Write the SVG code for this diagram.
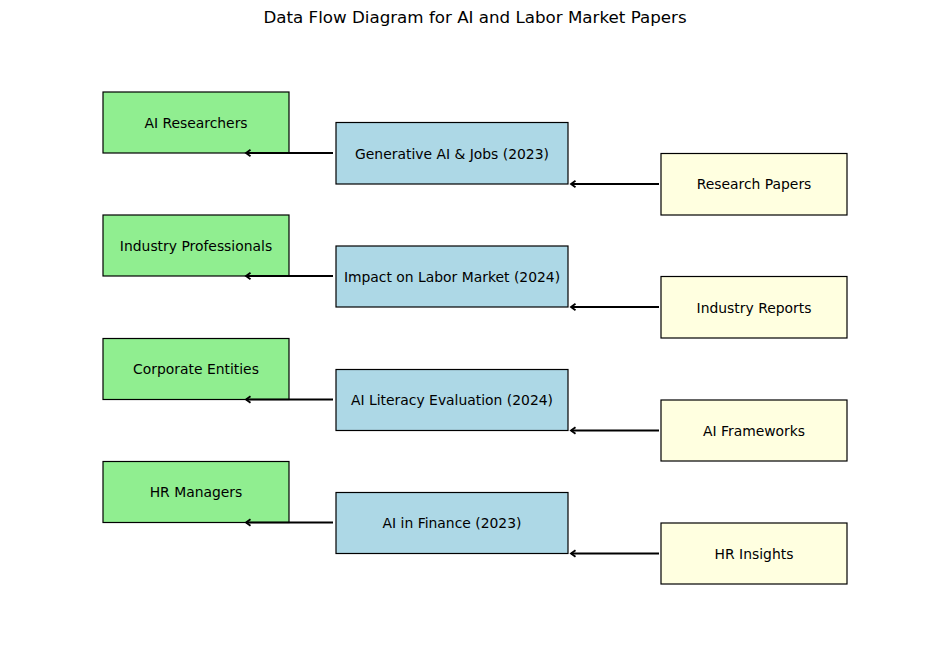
<svg xmlns="http://www.w3.org/2000/svg" width="950" height="656" viewBox="0 0 950 656">
<style>
.t{font-family:"DejaVu Sans",sans-serif;font-size:13.9px;fill:#000;text-anchor:middle;dominant-baseline:central}
.g{fill:#90ee90;stroke:#000;stroke-width:1.2}
.b{fill:#add8e6;stroke:#000;stroke-width:1.2}
.y{fill:#ffffe0;stroke:#000;stroke-width:1.2}
.c{stroke:#000;stroke-width:1.8;fill:none;marker-end:url(#ah)}
</style>
<defs>
<marker id="ah" viewBox="0 0 10 10" refX="9" refY="5" markerWidth="10" markerHeight="10" orient="auto" markerUnits="userSpaceOnUse" overflow="visible">
<path d="M4.5,1.8 L9,5 L4.5,8.2" fill="none" stroke="#000" stroke-width="1.8"/>
</marker>
</defs>
<rect width="950" height="656" fill="#fff"/>
<text x="475" y="17" style="font-family:'DejaVu Sans',sans-serif;font-size:16.7px;text-anchor:middle;dominant-baseline:central">Data Flow Diagram for AI and Labor Market Papers</text>
<g id="ai-researchers"><rect class="g" x="103" y="92" width="186" height="61"/><text class="t" x="196" y="122.5">AI Researchers</text></g>
<g id="industry-professionals"><rect class="g" x="103" y="215" width="186" height="61"/><text class="t" x="196" y="245.5">Industry Professionals</text></g>
<g id="corporate-entities"><rect class="g" x="103" y="338.5" width="186" height="61"/><text class="t" x="196" y="369">Corporate Entities</text></g>
<g id="hr-managers"><rect class="g" x="103" y="461.5" width="186" height="61"/><text class="t" x="196" y="492">HR Managers</text></g>
<g id="gen-ai-jobs"><rect class="b" x="336" y="122.5" width="232" height="61.5"/><text class="t" x="452" y="153.5">Generative AI &amp; Jobs (2023)</text></g>
<g id="impact-labor"><rect class="b" x="336" y="246" width="232" height="61"/><text class="t" x="452" y="276.5">Impact on Labor Market (2024)</text></g>
<g id="ai-literacy"><rect class="b" x="336" y="369.5" width="232" height="61"/><text class="t" x="452" y="400">AI Literacy Evaluation (2024)</text></g>
<g id="ai-finance"><rect class="b" x="336" y="492.5" width="232" height="61"/><text class="t" x="452" y="523">AI in Finance (2023)</text></g>
<g id="research-papers"><rect class="y" x="661" y="153.5" width="186" height="61.5"/><text class="t" x="754" y="184">Research Papers</text></g>
<g id="industry-reports"><rect class="y" x="661" y="276.5" width="186" height="61.5"/><text class="t" x="754" y="307.5">Industry Reports</text></g>
<g id="ai-frameworks"><rect class="y" x="661" y="400" width="186" height="61"/><text class="t" x="754" y="430.5">AI Frameworks</text></g>
<g id="hr-insights"><rect class="y" x="661" y="523" width="186" height="61"/><text class="t" x="754" y="553.5">HR Insights</text></g>
<g id="connectors">
<line class="c" x1="333" y1="153" x2="246" y2="153"/>
<line class="c" x1="333" y1="276" x2="246" y2="276"/>
<line class="c" x1="333" y1="399.5" x2="246" y2="399.5"/>
<line class="c" x1="333" y1="522.5" x2="246" y2="522.5"/>
<line class="c" x1="659" y1="184" x2="571" y2="184"/>
<line class="c" x1="659" y1="307" x2="571" y2="307"/>
<line class="c" x1="659" y1="430.5" x2="571" y2="430.5"/>
<line class="c" x1="659" y1="553.5" x2="571" y2="553.5"/>
</g>
</svg>
